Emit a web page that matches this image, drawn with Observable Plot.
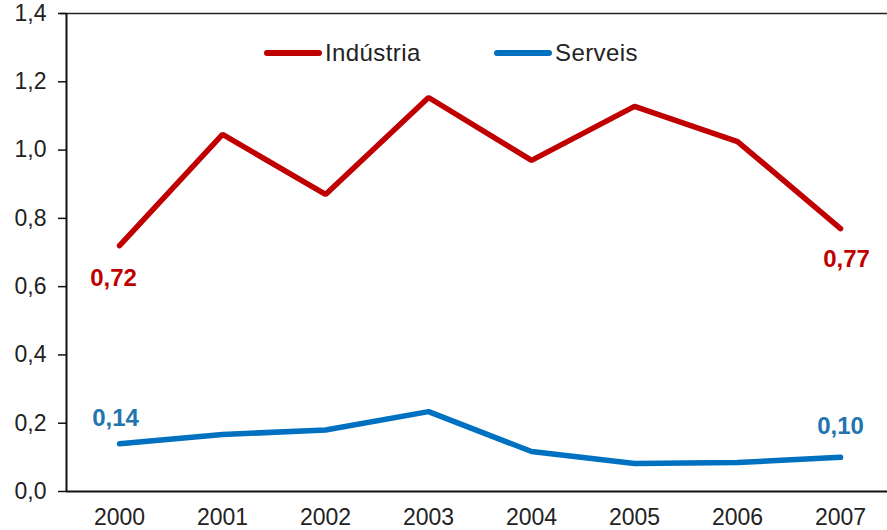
<!DOCTYPE html>
<html>
<head>
<meta charset="utf-8">
<script src="https://cdn.jsdelivr.net/npm/d3@7"></script>
<script src="https://cdn.jsdelivr.net/npm/@observablehq/plot@0.6"></script>
<style>
  html, body { margin: 0; padding: 0; background: #fff; }
  #wrap { position: relative; width: 887px; height: 530px; font-family: "Liberation Sans", Arial, sans-serif; }
  .legend { position: absolute; top: 38px; left: 264px; display: flex; font-size: 24px; color: #222; line-height: 30px; letter-spacing: 0.4px; }
  .item { display: flex; align-items: center; }
  .sw { display: inline-block; width: 58px; height: 6px; border-radius: 3px; margin-right: 3px; }
</style>
</head>
<body>
<div id="wrap">
  <div id="chart"></div>
  <div class="legend">
    <div class="item" style="width:230px"><span class="sw" style="background:#C00000"></span>Indústria</div>
    <div class="item"><span class="sw" style="background:#0070C0"></span>Serveis</div>
  </div>
</div>
<script>
const years = [2000, 2001, 2002, 2003, 2004, 2005, 2006, 2007];
const industria = [0.72, 1.046, 0.87, 1.154, 0.97, 1.128, 1.025, 0.77];
const serveis = [0.14, 0.167, 0.18, 0.234, 0.117, 0.082, 0.085, 0.10];
const yTicks = [0, 0.2, 0.4, 0.6, 0.8, 1.0, 1.2, 1.4];
const seriesNames = ["Indústria", "Serveis"];
const lineColors = ["#C00000", "#0070C0"];
const labelColors = ["#C00000", "#2274AE"];

const data = [];
years.forEach((y, i) => {
  data.push({year: y, value: industria[i], series: seriesNames[0]});
  data.push({year: y, value: serveis[i], series: seriesNames[1]});
});
const first = years[0], last = years[years.length - 1];
const pick = (s, yr) => data.filter(d => d.series === s && d.year === yr);
const fmt = (v, n) => v.toFixed(n).replace(".", ",");
const xDomain = [1999.485, 2007.456];
const labelOpts = (color, dx, dy) => ({
  x: "year", y: "value", text: d => fmt(d.value, 2), fill: color,
  fontWeight: "bold", fontSize: 24, dx, dy
});

const chart = Plot.plot({
  width: 887,
  height: 530,
  marginTop: 13,
  marginBottom: 39,
  marginLeft: 66,
  marginRight: 0,
  style: {fontFamily: "'Liberation Sans', Arial, sans-serif", background: "#fff"},
  x: {domain: xDomain},
  y: {domain: [0, 1.4]},
  color: {domain: seriesNames, range: lineColors},
  marks: [
    Plot.ruleY([1.4], {stroke: "#222", strokeWidth: 1.5, insetLeft: -6}),
    Plot.ruleY([0], {stroke: "#111", strokeWidth: 2}),
    Plot.ruleX([xDomain[0]], {stroke: "#111", strokeWidth: 2}),
    Plot.axisY({ticks: yTicks, tickSize: 8, tickPadding: 12, tickFormat: d => fmt(d, 1), fontSize: 23, fill: "#222", stroke: "#111", strokeWidth: 1.5, label: null}),
    Plot.axisX({ticks: years, tickSize: 0, tickPadding: 17, tickFormat: d => String(d), fontSize: 23, fill: "#222", label: null}),
    Plot.line(data, {x: "year", y: "value", z: "series", stroke: "series", strokeWidth: 5.5, strokeLinecap: "round", strokeLinejoin: "miter"}),
    Plot.text(pick(seriesNames[0], first), labelOpts(labelColors[0], -6, 33)),
    Plot.text(pick(seriesNames[0], last), labelOpts(labelColors[0], 6, 31)),
    Plot.text(pick(seriesNames[1], first), labelOpts(labelColors[1], -4, -25)),
    Plot.text(pick(seriesNames[1], last), labelOpts(labelColors[1], 0, -31))
  ]
});
document.getElementById("chart").appendChild(chart);
</script>
</body>
</html>
